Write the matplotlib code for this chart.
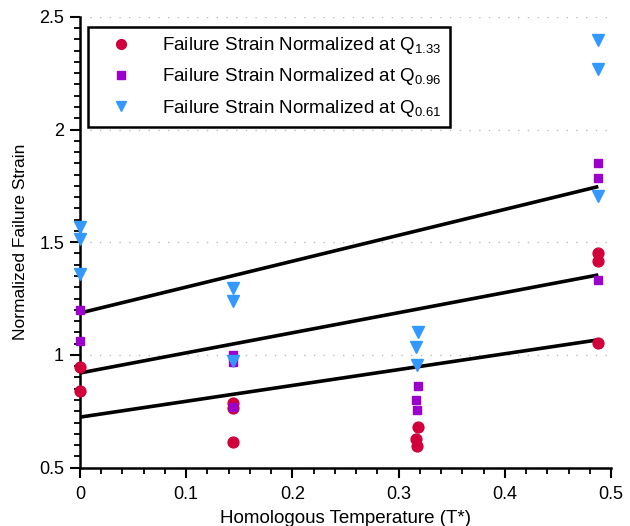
import numpy as np
import matplotlib
matplotlib.use('Agg')
import matplotlib.pyplot as plt
from matplotlib.ticker import MultipleLocator

plt.rcParams['font.family'] = ['Liberation Sans', 'DejaVu Sans']
plt.rcParams['mathtext.fontset'] = 'custom'
plt.rcParams['mathtext.rm'] = 'Liberation Sans'
plt.rcParams['mathtext.it'] = 'Liberation Sans'

# Homologous temperature of each test series
t_q133 = [0, 0, 0.144, 0.144, 0.144, 0.318, 0.316, 0.317, 0.488, 0.488, 0.488]
eps_q133 = [0.947, 0.84, 0.786, 0.766, 0.613, 0.68, 0.627, 0.598, 1.451, 1.416, 1.052]

t_q096 = [0, 0, 0.144, 0.144, 0.144, 0.318, 0.316, 0.317, 0.488, 0.488, 0.488]
eps_q096 = [1.20, 1.06, 1.00, 0.967, 0.769, 0.862, 0.80, 0.755, 1.85, 1.784, 1.333]

t_q061 = [0, 0, 0, 0.144, 0.144, 0.144, 0.318, 0.316, 0.317, 0.488, 0.488, 0.488]
eps_q061 = [1.568, 1.516, 1.36, 1.297, 1.238, 0.972, 1.10, 1.034, 0.954, 2.396, 2.27, 1.704]

# Linear trend lines (end points)
fit_t = [0, 0.488]
fit_q133 = [0.724, 1.067]
fit_q096 = [0.920, 1.355]
fit_q061 = [1.186, 1.747]

labels = ['Failure Strain Normalized at Q$_{1.33}$',
          'Failure Strain Normalized at Q$_{0.96}$',
          'Failure Strain Normalized at Q$_{0.61}$']

fig = plt.figure(figsize=(6.3, 5.26), dpi=100)
ax = fig.add_axes([0.127, 0.111, 0.843, 0.857])

ax.grid(True, axis='y', linestyle=(0, (1, 6)), color='#bdbdbd', linewidth=1.0)
ax.set_axisbelow(True)

for y in (fit_q133, fit_q096, fit_q061):
    ax.plot(fit_t, y, color='black', linewidth=2.6, solid_capstyle='butt', zorder=2)

ax.plot(t_q133, eps_q133, 'o', color='#d2003a', markersize=7.8, linestyle='none',
        label=labels[0], zorder=3, clip_on=False)
ax.plot(t_q096, eps_q096, 's', color='#9b00cc', markersize=6.2, linestyle='none',
        label=labels[1], zorder=3, clip_on=False)
ax.plot(t_q061, eps_q061, 'v', color='#3399ff', markersize=8.0, linestyle='none',
        label=labels[2], zorder=3, clip_on=False)

ax.set_xlim(0, 0.5)
ax.set_ylim(0.5, 2.5)
ax.xaxis.set_minor_locator(MultipleLocator(0.02))
ax.yaxis.set_minor_locator(MultipleLocator(0.05))
ax.set_xticks([0, 0.1, 0.2, 0.3, 0.4, 0.5])
ax.set_xticklabels(['0', '0.1', '0.2', '0.3', '0.4', '0.5'])
ax.set_yticks([0.5, 1, 1.5, 2, 2.5])
ax.set_yticklabels(['0.5', '1', '1.5', '2', '2.5'])

ax.spines['top'].set_visible(False)
ax.spines['right'].set_visible(False)
for s in ('left', 'bottom'):
    ax.spines[s].set_linewidth(1.8)
ax.tick_params(which='major', direction='out', length=7.5, width=1.5, labelsize=13)
ax.tick_params(axis='x', which='major', pad=6)
ax.tick_params(axis='y', which='major', pad=4)
ax.tick_params(which='minor', direction='out', length=4, width=1.3)

ax.set_xlabel('Homologous Temperature (T*)', fontsize=13.5, labelpad=5)
ax.set_ylabel('Normalized Failure Strain', fontsize=12.5, labelpad=8)

leg = ax.legend(loc='upper left', bbox_to_anchor=(0.015, 0.978), fontsize=13.5,
                frameon=True, fancybox=False, framealpha=1, edgecolor='black',
                borderpad=0.45, handletextpad=0.9, labelspacing=0.55, handlelength=2.6,
                borderaxespad=0, markerscale=0.9)
leg.get_frame().set_linewidth(1.8)

fig.savefig('out.png', dpi=100)
